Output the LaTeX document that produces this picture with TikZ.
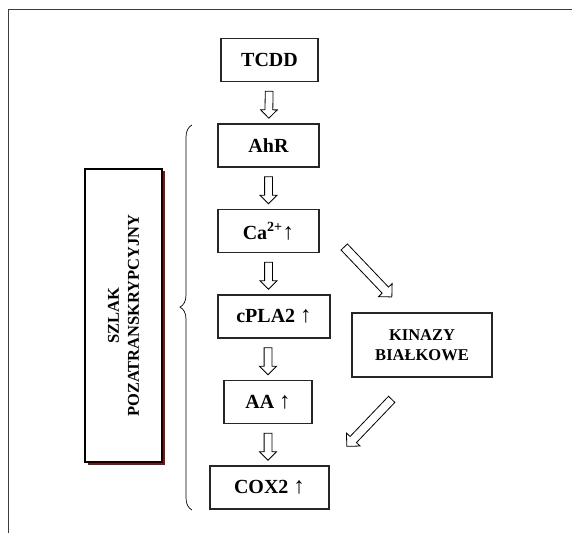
\documentclass[tikz,border=0pt]{standalone}
\usepackage{fontspec}
\setmainfont{Liberation Serif}
\usetikzlibrary{positioning,shapes.arrows,calc,decorations.pathreplacing,shadows}
\definecolor{shadowred}{RGB}{125,20,20}
\definecolor{framegray}{RGB}{60,60,60}
\newcommand{\upar}{{\mdseries\fontsize{23}{24}\selectfont ↑}}

\begin{document}
\begin{tikzpicture}[x=1pt,y=1pt,
  node distance=85.5pt,
  lvl/.style={draw=black!85, line width=1.5pt, fill=white, minimum height=43pt,
    font=\fontsize{20}{24}\selectfont\bfseries},
  side/.style={draw=black!85, line width=1.5pt, align=center,
    font=\fontsize{16.5}{20}\selectfont\bfseries},
  hollow/.style={single arrow, draw, line width=0.8pt, inner xsep=0pt, inner ysep=3.5pt,
    single arrow head extend=4.5pt, minimum height=27pt,
    sloped, allow upside down}]
\useasboundingbox (0,0) rectangle (572,533);
\draw[framegray, line width=1pt] (572,523) -- (8,523) -- (8,0);

% main chain
\node[lvl, minimum width=97pt] (tcdd) at (269.5,473) {TCDD};
\node[lvl, minimum width=101pt] (ahr) [below of=tcdd, xshift=-1pt] {AhR};
\node[lvl, minimum width=101pt] (ca) [below of=ahr] {Ca\textsuperscript{2+}\upar};
\node[lvl, minimum width=112pt] (cpla) [below of=ca, xshift=5.5pt] {cPLA2 \upar};
\node[lvl, minimum width=88pt] (aa) [below of=cpla, xshift=-6pt] {AA \upar};
\node[lvl, minimum width=119pt] (cox) [below of=aa, xshift=1.5pt] {COX2 \upar};

% side boxes
\node[side, minimum width=140pt, minimum height=64pt] (kin) at (422,188) {KINAZY\\BIAŁKOWE};
\node[draw, line width=2.4pt, fill=white, minimum width=77pt, minimum height=293pt,
  drop shadow={shadow xshift=2.5pt, shadow yshift=-2.5pt, fill=shadowred, opacity=1}]
  (szlak) at (123.5,217.5) {};
\node[rotate=90, align=center, font=\fontsize{16.5}{20}\selectfont\bfseries]
  (szlaktxt) at (szlak.center) {SZLAK\\POZATRANSKRYPCYJNY};

% brace
\coordinate (brb) at (192,23);
\coordinate (brt) at (192,408);
\draw[decorate, decoration={brace, amplitude=12pt, aspect=0.527}, line width=0.7pt] (brb) -- (brt);

% hollow arrows
\path (tcdd) -- node[hollow] {} (ahr);
\path (ahr) -- node[hollow] {} (ca);
\path (ca.south) -- node[hollow] {} (ca.south |- cpla.north);
\path (aa.north |- cpla.south) -- node[hollow] {} (aa.north);
\path (aa.south) -- node[hollow] {} (aa.south |- cox.north);
\path ($(ca.east)+(24,-15.5)$) -- node[hollow, inner ysep=4pt, single arrow head extend=5pt, minimum height=69pt] {} ($(kin.north west)+(38,18)$);
\path ($(kin.south west)+(41,-21)$) -- node[hollow, inner ysep=4pt, single arrow head extend=5pt, minimum height=65pt] {} ($(cox.north east)+(19.5,21.5)$);
\end{tikzpicture}
\end{document}
